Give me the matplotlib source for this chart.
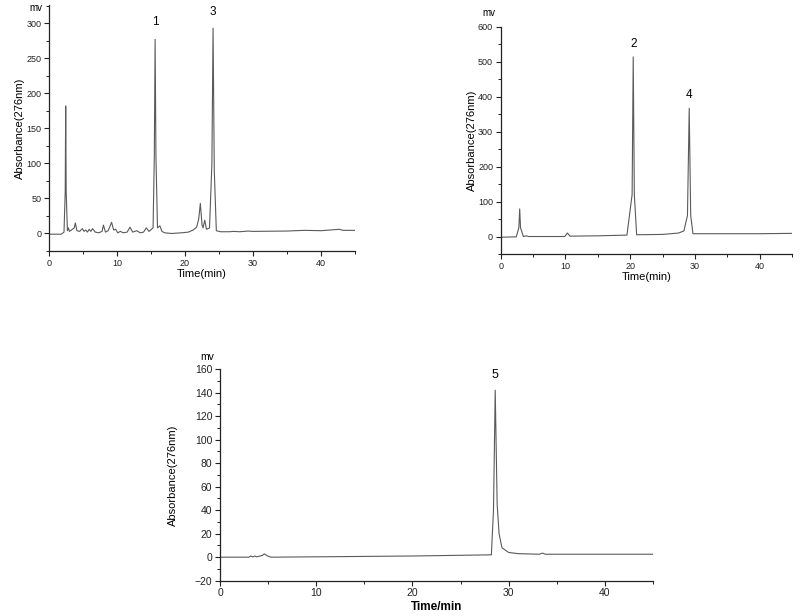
import matplotlib
matplotlib.use('Agg')
import matplotlib.pyplot as plt
from matplotlib.ticker import MultipleLocator

plt.rcParams['font.family'] = ['Liberation Sans', 'DejaVu Sans']

# chromatogram A (peaks 1 and 3): (time min, signal mv)
time_a = [0, 1.8, 2.2, 2.38, 2.45, 2.52, 2.7, 2.85, 3.0, 3.3, 3.7, 3.87, 4.1, 4.5, 4.9, 5.15,
          5.4, 5.65, 5.9, 6.15, 6.4, 6.8, 7.3, 7.8, 8.0, 8.3, 8.7, 9.2, 9.5, 9.8, 10.1, 10.5,
          10.9, 11.5, 11.9, 12.3, 12.9, 13.4, 13.9, 14.3, 14.7, 15.3, 15.48, 15.6, 15.72, 15.95,
          16.3, 16.6, 17.0, 18.0, 19.5, 20.5, 21.2, 21.7, 22.0, 22.25, 22.5, 22.65, 22.9, 23.15,
          23.6, 23.95, 24.12, 24.3, 24.6, 25.2, 26.5, 27.2, 28.0, 29.3, 30.0, 35.0, 37.5, 40.0,
          42.7, 43.2, 45.0]
signal_a = [-1, -1, 2, 60, 182, 60, 4, 8, 3, 5, 8, 15, 4, 3, 7, 3,
            5, 2, 6, 3, 7, 2, 1, 3, 12, 2, 4, 16, 5, 6, 1, 3,
            1, 2, 9, 2, 4, 1, 2, 8, 3, 8, 110, 277, 110, 8,
            11, 3, 1, 0, 1, 2, 5, 9, 20, 43, 12, 8, 19, 6,
            8, 100, 293, 90, 4, 2.5, 2.5, 3, 2.5, 3.5, 3, 3.5, 4.5, 4,
            6, 4.5, 4.5]

# chromatogram B (peaks 2 and 4)
time_b = [0, 2.4, 2.8, 2.93, 3.06, 3.5, 4.0, 4.3, 6.0, 9.9, 10.3, 10.7, 15.0, 19.5, 20.3,
          20.47, 20.64, 21.0, 25.0, 27.5, 28.3, 28.85, 29.12, 29.35, 29.7, 35.0, 40.0, 45.0]
signal_b = [-2, -1, 25, 79, 25, 0, 2, 0, 0, 0, 10, 1, 2, 4, 120,
            514, 120, 5, 6, 10, 16, 60, 367, 60, 8, 8, 8, 9]

# chromatogram C (peak 5)
time_c = [0, 3.0, 3.2, 3.4, 3.6, 3.8, 4.4, 4.6, 4.9, 5.3, 10.0, 20.0, 28.2, 28.42, 28.6,
          28.8, 29.0, 29.3, 30.0, 31.0, 33.2, 33.5, 33.8, 35.0, 45.0]
signal_c = [0, 0, 1, 0.2, 1, 0.3, 1.5, 2.8, 1.2, 0, 0.3, 1, 2, 40, 142,
            45, 20, 8, 4, 3, 2.5, 3.5, 2.5, 2.5, 2.5]

line_color = '#5a5a5a'
axis_color = '#222222'


def style_axes(ax, ymajor, yminor, tick_size):
    for side in ['top', 'right']:
        ax.spines[side].set_visible(False)
    for side in ['left', 'bottom']:
        ax.spines[side].set_color(axis_color)
        ax.spines[side].set_linewidth(0.9)
    ax.xaxis.set_major_locator(MultipleLocator(10))
    ax.xaxis.set_minor_locator(MultipleLocator(5))
    ax.yaxis.set_major_locator(MultipleLocator(ymajor))
    ax.yaxis.set_minor_locator(MultipleLocator(yminor))
    ax.tick_params(which='major', direction='out', length=3.5, width=0.8,
                   labelsize=tick_size, colors=axis_color, pad=2)
    ax.tick_params(which='minor', direction='out', length=2, width=0.7, colors=axis_color)
    ax.set_xlim(0, 45)


fig = plt.figure(figsize=(8, 6.16), dpi=100)

# panel A
ax1 = fig.add_axes([0.0613, 0.5925, 0.3825, 0.3994])
ax1.plot(time_a, signal_a, color=line_color, lw=0.8)
style_axes(ax1, 50, 25, 6.5)
ax1.set_ylim(-25, 326)
ax1.set_xlabel('Time(min)', fontsize=8, labelpad=1)
ax1.set_ylabel('Absorbance(276nm)', fontsize=8, labelpad=1)
ax1.text(15.6, 293, '1', ha='center', va='bottom', fontsize=8.5)
ax1.text(24.1, 307, '3', ha='center', va='bottom', fontsize=8.5)
fig.text(36 / 800, 1 - 8 / 616, 'mv', ha='center', va='center', fontsize=7)

# panel B
ax2 = fig.add_axes([0.6259, 0.5877, 0.3641, 0.3686])
ax2.plot(time_b, signal_b, color=line_color, lw=0.8)
style_axes(ax2, 100, 50, 6.5)
ax2.set_ylim(-50, 600)
ax2.set_xlabel('Time(min)', fontsize=8, labelpad=1)
ax2.set_ylabel('Absorbance(276nm)', fontsize=8, labelpad=1)
ax2.text(20.5, 535, '2', ha='center', va='bottom', fontsize=8.5)
ax2.text(29.1, 388, '4', ha='center', va='bottom', fontsize=8.5)
fig.text(489 / 800, 1 - 13 / 616, 'mv', ha='center', va='center', fontsize=7)

# panel C
ax3 = fig.add_axes([0.275, 0.0573, 0.5413, 0.3437])
ax3.plot(time_c, signal_c, color=line_color, lw=0.8)
style_axes(ax3, 20, 10, 7.5)
ax3.set_ylim(-20, 160)
ax3.set_xlabel('Time/min', fontsize=8.5, fontweight='bold', labelpad=2)
ax3.set_ylabel('Absorbance(276nm)', fontsize=8, labelpad=12,
               family=['Liberation Sans Narrow', 'Liberation Sans', 'DejaVu Sans'])
ax3.text(28.6, 150, '5', ha='center', va='bottom', fontsize=9)
fig.text(207 / 800, 1 - 357 / 616, 'mv', ha='center', va='center', fontsize=7.5)

fig.savefig('out.png', dpi=100)
